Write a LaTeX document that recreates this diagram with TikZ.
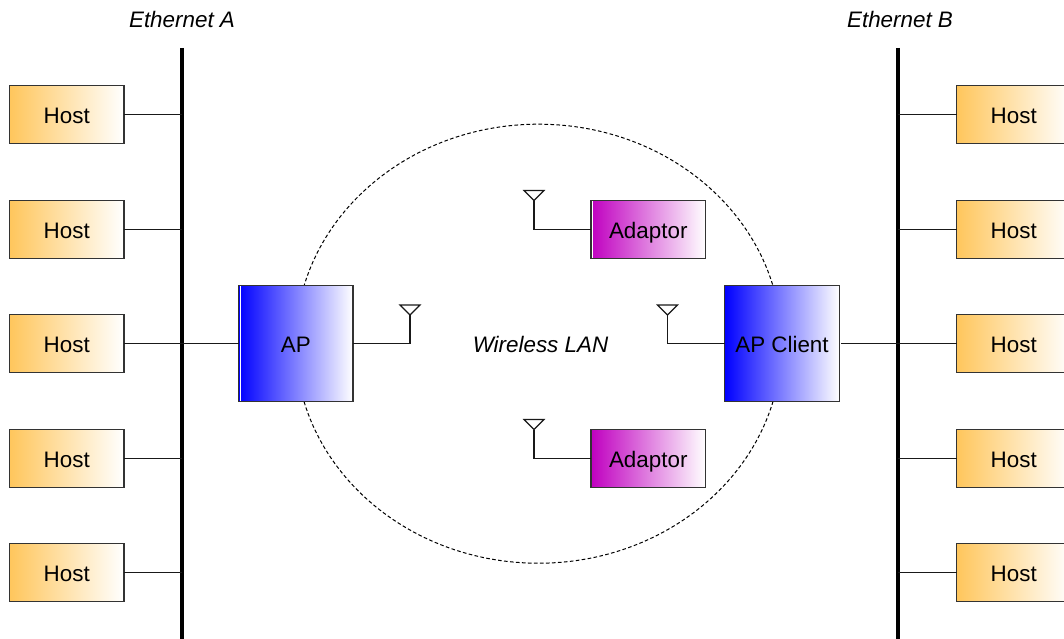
\documentclass[tikz,border=0pt]{standalone}
\usepackage{fontspec}
\setmainfont{Liberation Sans}
\usetikzlibrary{shapes.geometric}
\definecolor{orange1}{HTML}{FFC65C}
\definecolor{magenta1}{HTML}{C000C0}
\tikzset{
  box/.style={draw=black!80, line width=1.1bp, inner sep=0pt, outer sep=0pt, text height=19.5bp, text depth=2bp, font=\fontsize{22.4bp}{24bp}\selectfont},
  hostbox/.style={box, minimum width=114.5bp, minimum height=58bp, left color=orange1, middle color=orange1!48!white, right color=white},
  apbox/.style={box, minimum width=114.5bp, minimum height=116bp, left color=blue, middle color=blue!40!white, right color=white},
  adaptbox/.style={box, minimum width=114.5bp, minimum height=58bp, left color=magenta1, middle color=magenta1!40!white, right color=white},
  stripe/.style={path picture={\fill[white] ([xshift=1.2bp]path picture bounding box.south west) rectangle ([xshift=2.2bp]path picture bounding box.north west);}},
  wire/.style={line width=1.1bp, draw=black!90},
  bus/.style={line width=4.6bp, draw=black},
  ant/.style={line width=1.1bp, draw=black!90, fill=white, line join=miter},
  captext/.style={font=\itshape\fontsize{22.4bp}{24bp}\selectfont, inner sep=0pt},
  cloud/.style={draw=black, line width=1bp, dash pattern=on 3.6bp off 2.4bp, inner sep=0pt, outer sep=0pt, ellipse, minimum width=486bp, minimum height=439bp}
}
\begin{document}
\begin{tikzpicture}[x=1bp,y=-1bp]
\useasboundingbox (0,0) rectangle (1064,639);
\clip (0,0) rectangle (1064,639);
\node[cloud] (wlan) at (538.5,343.7) {};
% buses
\coordinate (busAtop) at (182,48);
\coordinate (busAbot) at (182,639);
\coordinate (busBtop) at (898,48);
\coordinate (busBbot) at (898,639);
\draw[bus] (busAtop) -- (busAbot);
\draw[bus] (busBtop) -- (busBbot);
\node[captext] (ethA) at (182,19.3) {Ethernet A};
\node[captext] (ethB) at (900,19.3) {Ethernet B};
\node[captext] (wl) at (540.5,344.5) {Wireless LAN};
% hosts
\foreach \n/\y in {1/114.5,2/229.5,3/343.5,4/458.5,5/572.5}{
  \node[hostbox] (la\n) at (66.75,\y) {Host};
  \node[hostbox] (rb\n) at (1013.75,\y) {Host};
  \draw[wire] (la\n.east) -- (busAtop |- la\n.east);
  \draw[wire] (busBtop |- rb\n.west) -- (rb\n.west);
}
% APs
\node[apbox, stripe] (ap) at (295.75,343.5) {AP};
\node[apbox] (apc) at (782,343.5) {AP Client};
\node[adaptbox, stripe] (ad1) at (648.25,229.5) {Adaptor};
\node[adaptbox] (ad2) at (648.25,458.5) {Adaptor};
\draw[wire] (busAtop |- ap.west) -- (ap.west);
\coordinate (apcout) at (841,343.5);
\draw[wire] (apcout) -- (busBtop |- apc.east);
% antennas
\coordinate (a1) at (410,315);
\coordinate (a2) at (667.5,315);
\coordinate (a3) at (534,200.5);
\coordinate (a4) at (534,429.5);
\draw[wire] (ap.east) -| (a1);
\draw[wire] (apc.west) -| (a2);
\draw[wire] (ad1.west) -| (a3);
\draw[wire] (ad2.west) -| (a4);
\foreach \a in {a1,a2,a3,a4}{
  \draw[ant] (\a) -- ++(-10,-10) -- ++(20,0) -- cycle;
}
\end{tikzpicture}
\end{document}
